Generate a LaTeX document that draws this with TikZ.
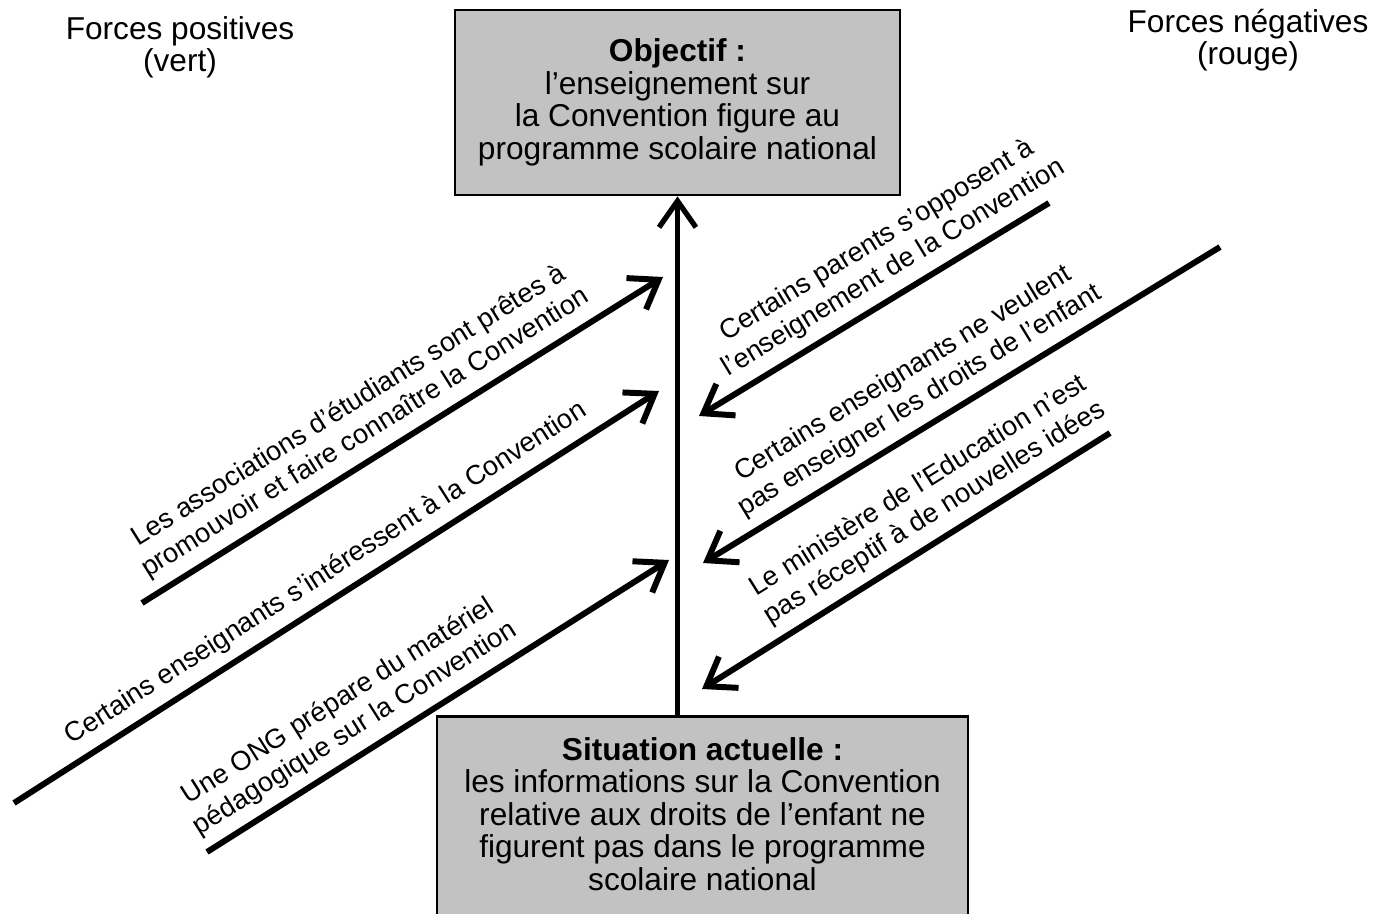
\documentclass[tikz,border=0pt]{standalone}
\usepackage{fontspec}
\setmainfont{Liberation Sans}
\usetikzlibrary{positioning, arrows.meta}

\begin{document}
\begin{tikzpicture}[
    x=0.02cm, y=-0.02cm,
    % Styles
    goal/.style={ % Objective and current situation boxes
        rectangle,
        draw,
        line width=1.6pt,
        fill=black!24,
        inner sep=0pt
    },
    boxtext/.style={
        align=center,
        inner sep=0pt,
        font=\fontsize{18}{18.5}\selectfont
    },
    header/.style={
        align=center,
        font=\fontsize{18}{18}\selectfont
    },
    force/.style={ % Force arrows
        line width=3.4pt,
        -{Straight Barb[length=15pt, width=21pt]}
    },
    forcelabel/.style={
        sloped,
        above=2pt,
        align=center,
        font=\fontsize{15.5}{18}\selectfont
    }
]
    \useasboundingbox (0,0) rectangle (1386,913);

    % Headers
    \node[header] (poshead) at (180,47) {Forces positives\\(vert)};
    \node[header] (neghead) at (1248,40) {Forces négatives\\(rouge)};

    % Objective
    \node[goal, minimum width=8.9cm, minimum height=3.7cm] (goal) at (677.5,102.5) {};
    \node[boxtext] (goaltext) at (goal) {\textbf{Objectif :}\\l’enseignement sur\\la Convention figure au\\programme scolaire national};

    % Current situation
    \node[goal, minimum width=10.62cm, minimum height=5cm, anchor=north] (now) at (702.5,715) {};
    \node[boxtext, anchor=north] (nowtext) at (702.5,737) {\textbf{Situation actuelle :}\\les informations sur la Convention\\relative aux droits de l’enfant ne\\figurent pas dans le programme\\scolaire national};

    % Current situation -> Objective
    \draw[force, line width=3pt] (goal.south |- now.north) -- (goal.south);

    % Positive forces
    \coordinate (pos1) at (142,603);
    \coordinate (pos1tip) at (663,277);
    \coordinate (pos2) at (14,803);
    \coordinate (pos2tip) at (659,391);
    \coordinate (pos3) at (207,852);
    \coordinate (pos3tip) at (669,560);

    \draw[force] (pos1) -- (pos1tip) node[forcelabel, pos=0.455] (pos1label) {Les associations d’étudiants sont prêtes à\\promouvoir et faire connaître la Convention};
    \draw[force] (pos2) -- (pos2tip) node[forcelabel, pos=0.505] (pos2label) {Certains enseignants s’intéressent à la Convention};
    \draw[force] (pos3) -- (pos3tip) node[forcelabel, pos=0.35] (pos3label) {Une ONG prépare du matériel\\pédagogique sur la Convention};

    % Negative forces
    \coordinate (neg1) at (1049,203);
    \coordinate (neg1tip) at (699,416);
    \coordinate (neg2) at (1220,247);
    \coordinate (neg2tip) at (703,563);
    \coordinate (neg3) at (1110,433);
    \coordinate (neg3tip) at (702,689);

    \draw[force] (neg1) -- (neg1tip) node[forcelabel, pos=0.406] (neg1label) {Certains parents s’opposent à\\l’enseignement de la Convention};
    \draw[force] (neg2) -- (neg2tip) node[forcelabel, pos=0.555] (neg2label) {Certains enseignants ne veulent\\pas enseigner les droits de l’enfant};
    \draw[force] (neg3) -- (neg3tip) node[forcelabel, pos=0.396] (neg3label) {Le ministère de l’Education n’est\\pas réceptif à de nouvelles idées};
\end{tikzpicture}
\end{document}
